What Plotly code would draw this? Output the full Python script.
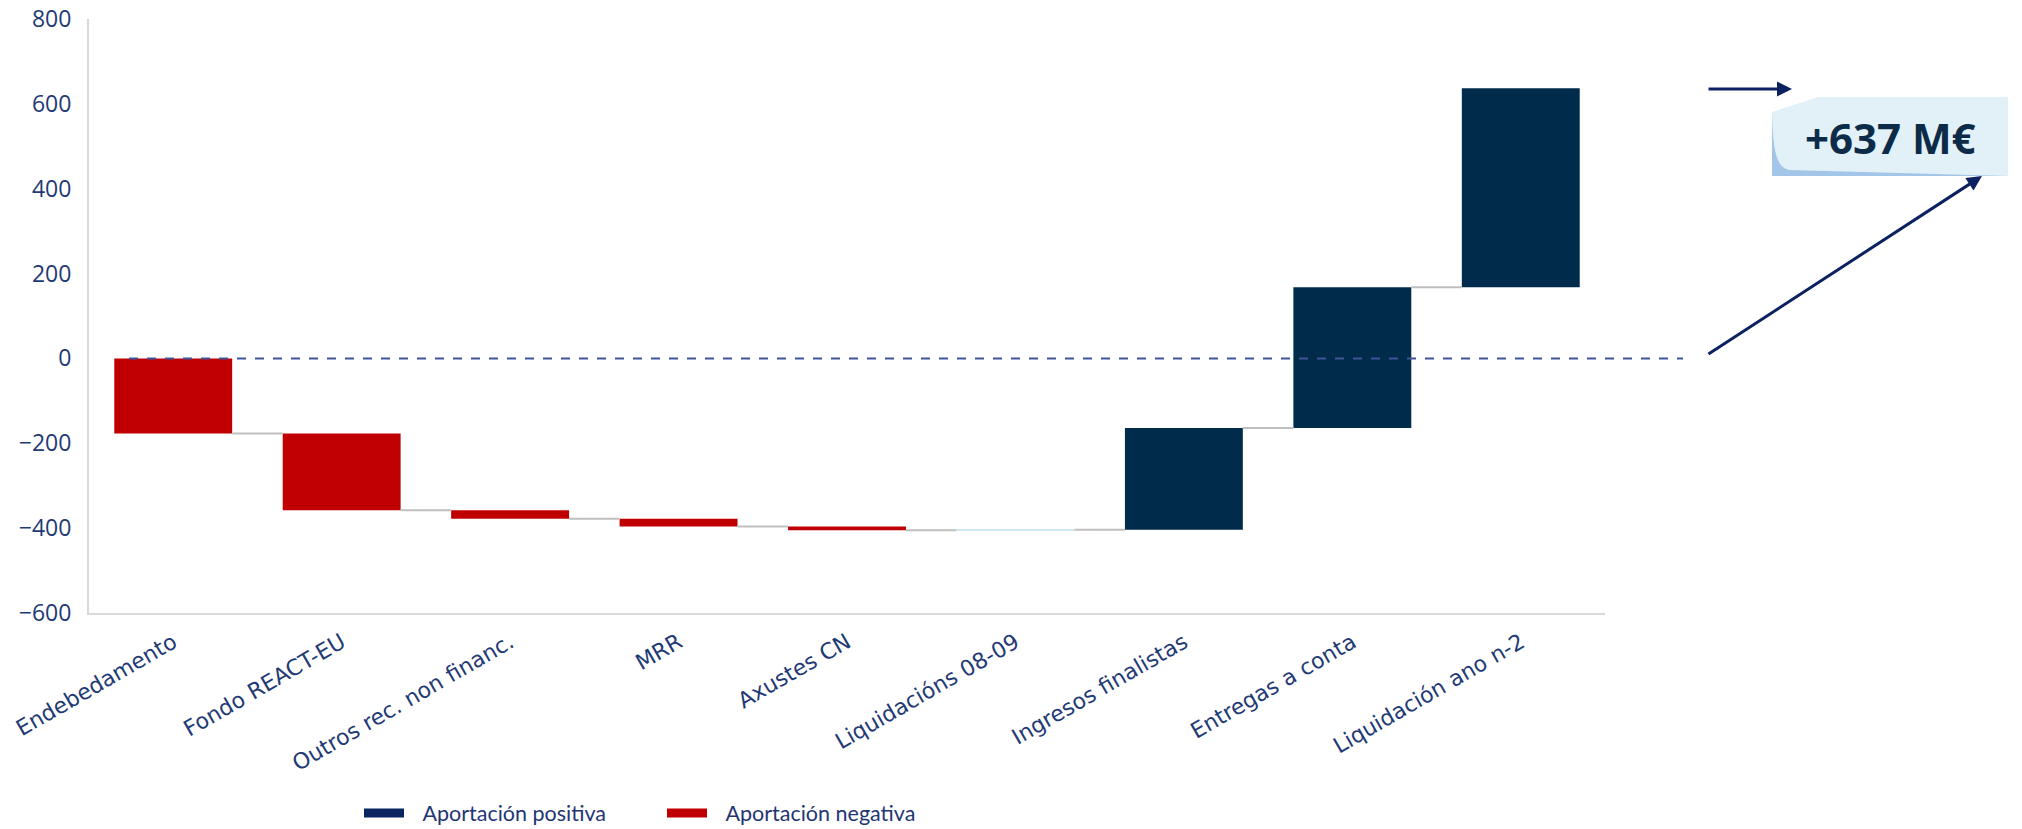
import plotly.graph_objects as go

categories = ["Endebedamento", "Fondo REACT-EU", "Outros rec. non financ.", "MRR",
              "Axustes CN", "Liquidacións 08-09", "Ingresos finalistas",
              "Entregas a conta", "Liquidación ano n-2"]
deltas = [-177, -181, -20, -18, -9, 1, 240, 332, 469]
bar_colors = ["#c00000", "#c00000", "#c00000", "#c00000", "#c00000",
              "#cfe7f3", "#002b4a", "#002b4a", "#002b4a"]
y_ticks = [-600, -400, -200, 0, 200, 400, 600, 800]
legend_labels = ["Aportación positiva", "Aportación negativa"]
legend_colors = ["#0b2462", "#c00000"]

W, H = 2022, 829
L, T, PW, PH = 89, 19, 1516, 594
R, B = W - L - PW, H - T - PH


def px(x, y):
    """reference-image pixel -> paper coords"""
    return (x - L) / PW, (H - B - y) / PH


bases, ends = [], []
run = 0
for d in deltas:
    bases.append(run)
    run += d
    ends.append(run)
total = run

xs = list(range(len(categories)))
bw = 0.7

fig = go.Figure()
fig.add_trace(go.Bar(
    x=xs, y=deltas, base=bases, width=bw,
    marker=dict(color=bar_colors, line=dict(width=0)),
    showlegend=False, hoverinfo="skip"))

cx, cy = [], []
for i in range(len(deltas) - 1):
    cx += [i + bw / 2, i + 1 - bw / 2, None]
    cy += [ends[i], ends[i], None]
fig.add_trace(go.Scatter(x=cx, y=cy, mode="lines",
                         line=dict(color="#bfbfbf", width=2),
                         showlegend=False, hoverinfo="skip"))

for lab, col in zip(legend_labels, legend_colors):
    fig.add_trace(go.Scatter(x=[None], y=[None], mode="lines",
                             name="\u2002\u2009" + lab,
                             line=dict(color=col, width=9)))

shapes = []
x0p, _ = px(129, 0)
x1p, _ = px(1683, 0)
shapes.append(dict(type="line", xref="paper", yref="y", x0=x0p, x1=x1p, y0=0, y1=0,
                   line=dict(color="#3f5597", width=2, dash="dash"), layer="above"))


def path(points):
    s = ""
    for k, p in enumerate(points):
        if p[0] == "C":
            a = px(*p[1]); b = px(*p[2]); c = px(*p[3])
            s += f" C {a[0]},{a[1]} {b[0]},{b[1]} {c[0]},{c[1]}"
        else:
            q = px(*p)
            s += (" M " if k == 0 else " L ") + f"{q[0]},{q[1]}"
    return s + " Z"


shapes.append(dict(type="path", xref="paper", yref="paper",
                   path=path([(1772, 112), (1818, 97), (2008, 97), (2008, 176), (1772, 176)]),
                   fillcolor="#e2f1f8", line=dict(width=0)))
shapes.append(dict(type="path", xref="paper", yref="paper",
                   path=path([(1772, 112), ("C", (1773, 150), (1776, 168), (1790, 170)),
                              (2008, 176), (1772, 176)]),
                   fillcolor="#a3c6e8", line=dict(width=0)))

annotations = []
tx, ty = px(1890, 137)
annotations.append(dict(xref="paper", yref="paper", x=tx, y=ty, showarrow=False,
                        text=f"<b>+{total:.0f} M€</b>",
                        font=dict(family="Open Sans", size=42, color="#0c2b48"),
                        xanchor="center", yanchor="middle"))
hx, hy = px(1792, 89)
annotations.append(dict(xref="paper", yref="paper", x=hx, y=hy, ax=-85, ay=0,
                        showarrow=True, arrowhead=2, arrowsize=1, arrowwidth=3,
                        arrowcolor="#0b2160", text=""))
hx, hy = px(1982, 176)
annotations.append(dict(xref="paper", yref="paper", x=hx, y=hy, ax=-275, ay=179,
                        showarrow=True, arrowhead=2, arrowsize=1, arrowwidth=3,
                        arrowcolor="#0b2160", text=""))

lx, ly = px(359, 813)
fig.update_layout(
    width=W, height=H,
    margin=dict(l=L, r=R, t=T, b=B, autoexpand=False),
    paper_bgcolor="white", plot_bgcolor="white",
    shapes=shapes, annotations=annotations,
    showlegend=True,
    legend=dict(orientation="h", x=lx, y=ly, xanchor="left", yanchor="middle",
                font=dict(family="Lato", size=21.5, color="#1f3573"),
                itemwidth=40, entrywidth=248, entrywidthmode="pixels",
                traceorder="normal"),
    xaxis=dict(range=[-0.5, 8.5], tickvals=xs, ticktext=categories, tickangle=-30,
               showline=True, linecolor="#d9d9d9", linewidth=2, showgrid=False,
               zeroline=False, ticks="", ticklabelstandoff=6,
               tickfont=dict(family="DejaVu Sans", size=22, color="#1f3a75")),
    yaxis=dict(range=[-600, 800], tickvals=y_ticks,
               showline=True, linecolor="#d9d9d9", linewidth=2, showgrid=False,
               zeroline=False, ticks="", ticklabelstandoff=11, ticklabeloverflow="allow",
               tickfont=dict(family="Open Sans", size=23, color="#1f3a75")),
    bargap=0.3,
)

fig.write_html("out.html", config={"displayModeBar": False},
               post_script="document.body.style.margin='0';document.body.style.overflow='hidden';")
